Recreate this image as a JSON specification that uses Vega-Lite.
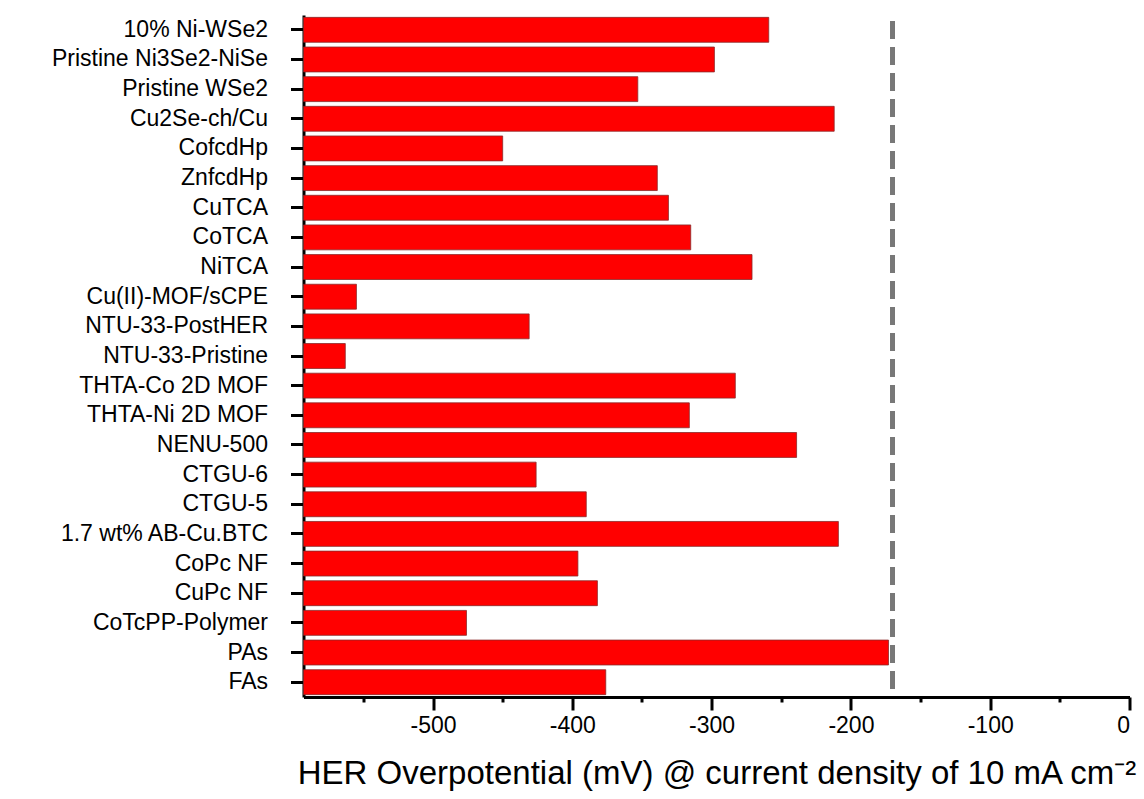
{
  "$schema": "https://vega.github.io/schema/vega-lite/v6.json",
  "width": 826,
  "height": 682,
  "autosize": {"type": "none"},
  "padding": {"left": 303.5, "top": 15, "right": 14.5, "bottom": 102},
  "background": "white",
  "config": {"font": "Liberation Sans", "view": {"stroke": null}},
  "data": {
    "values": [
      {"material": "10% Ni-WSe2", "overpotential": -259},
      {"material": "Pristine Ni3Se2-NiSe", "overpotential": -298},
      {"material": "Pristine WSe2", "overpotential": -353},
      {"material": "Cu2Se-ch/Cu", "overpotential": -212},
      {"material": "CofcdHp", "overpotential": -450},
      {"material": "ZnfcdHp", "overpotential": -339},
      {"material": "CuTCA", "overpotential": -331},
      {"material": "CoTCA", "overpotential": -315},
      {"material": "NiTCA", "overpotential": -271},
      {"material": "Cu(II)-MOF/sCPE", "overpotential": -555},
      {"material": "NTU-33-PostHER", "overpotential": -431},
      {"material": "NTU-33-Pristine", "overpotential": -563},
      {"material": "THTA-Co 2D MOF", "overpotential": -283},
      {"material": "THTA-Ni 2D MOF", "overpotential": -316},
      {"material": "NENU-500", "overpotential": -239},
      {"material": "CTGU-6", "overpotential": -426},
      {"material": "CTGU-5", "overpotential": -390},
      {"material": "1.7 wt% AB-Cu.BTC", "overpotential": -209},
      {"material": "CoPc NF", "overpotential": -396},
      {"material": "CuPc NF", "overpotential": -382},
      {"material": "CoTcPP-Polymer", "overpotential": -476},
      {"material": "PAs", "overpotential": -173},
      {"material": "FAs", "overpotential": -376}
    ]
  },
  "layer": [
    {
      "mark": {"type": "bar", "color": "#ff0000", "stroke": "#8a2a2a", "strokeWidth": 0.8},
      "encoding": {
        "y": {
          "field": "material",
          "type": "nominal",
          "sort": null,
          "scale": {"paddingInner": 0.16, "paddingOuter": 0.08},
          "axis": {
            "title": null,
            "labelFontSize": 23,
            "labelColor": "black",
            "labelPadding": 23,
            "labelLimit": 400,
            "tickSize": 13,
            "tickWidth": 3,
            "tickColor": "black",
            "domainWidth": 3,
            "domainColor": "black",
            "grid": false
          }
        },
        "x": {
          "field": "overpotential",
          "type": "quantitative",
          "scale": {"domain": [-593, 0], "nice": false, "zero": false},
          "axis": {
            "title": "HER Overpotential (mV) @ current density of 10 mA cm⁻²",
            "titleFontSize": 33,
            "titleFontWeight": "normal",
            "titleColor": "black",
            "titlePadding": 20,
            "values": [-550, -500, -450, -400, -350, -300, -250, -200, -150, -100, -50, 0],
            "labelExpr": "datum.value % 100 === 0 ? '' + datum.value : ''",
            "labelFontSize": 23,
            "labelColor": "black",
            "labelPadding": 4,
            "tickSize": {"condition": {"test": "datum.value % 100 === 0", "value": 13}, "value": 5},
            "tickWidth": 3,
            "tickColor": "black",
            "domainWidth": 3,
            "domainColor": "black",
            "grid": false
          }
        },
        "x2": {"datum": -593}
      }
    },
    {
      "mark": {"type": "rule", "color": "#787878", "strokeWidth": 4, "strokeDash": [18, 8], "strokeDashOffset": 20},
      "encoding": {"x": {"datum": -170}}
    }
  ]
}
